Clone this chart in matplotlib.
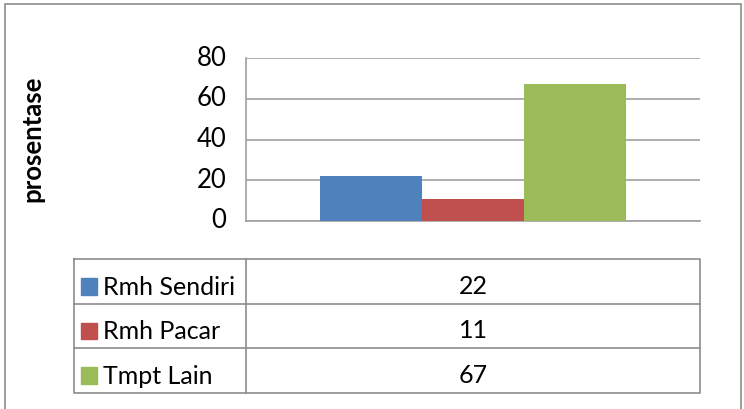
import matplotlib.pyplot as plt
from matplotlib.patches import Rectangle

# data
kategori = ["Rmh Sendiri", "Rmh Pacar", "Tmpt Lain"]
nilai = [22, 11, 67]
warna = ["#4F81BD", "#C0504D", "#9BBB59"]
y_ticks = [0, 20, 40, 60, 80]

W, H = 744, 409
plt.rcParams['font.family'] = ['Lato', 'DejaVu Sans']

fig = plt.figure(figsize=(W / 100, H / 100), dpi=100)

# outer frame
fig.patches.append(Rectangle((5 / W, -0.05), 736 / W, 1.05 - 4 / H,
                             transform=fig.transFigure, fill=False,
                             edgecolor="#8C8C8C", linewidth=1.2))

# bar chart
ax = fig.add_axes([246 / W, 1 - 221 / H, 454 / W, 163 / H])
lebar = 0.224
n = len(nilai)
for i, (v, c) in enumerate(zip(nilai, warna)):
    x = (i - (n - 1) / 2) * lebar
    ax.bar(x, v, width=lebar, color=c, zorder=3)
ax.set_xlim(-0.5, 0.5)
ax.set_ylim(0, 80)
ax.set_yticks(y_ticks)
ax.set_xticks([])
ax.tick_params(axis="y", length=0, pad=14, labelsize=18.5)
for lb in ax.get_yticklabels():
    lb.set_va("center")
ax.grid(axis="y", color="#A0A0A0", linewidth=1.2, zorder=0)
for s in ["top", "right"]:
    ax.spines[s].set_visible(False)
for s in ["left", "bottom"]:
    ax.spines[s].set_color("#A0A0A0")
    ax.spines[s].set_linewidth(1.2)
fig.text(32 / W, 1 - 139 / H, "prosentase", rotation=90, ha="center",
         va="center", fontsize=18.5, fontweight="bold")

# data table
tb = fig.add_axes([74 / W, 1 - 393 / H, 626 / W, 134 / H])
tb.set_xlim(0, 1)
tb.set_ylim(n, 0)
tb.axis("off")
garis = "#8C8C8C"
split = (246 - 74) / 626
tb.plot([0, 1, 1, 0, 0], [0, 0, n, n, 0], color=garis, lw=1.2, clip_on=False)
tb.plot([split, split], [0, n], color=garis, lw=1.2, clip_on=False)
for r in range(1, n):
    tb.plot([0, 1], [r, r], color=garis, lw=1.2, clip_on=False)
for r, (k, v, c) in enumerate(zip(kategori, nilai, warna)):
    tb.add_patch(Rectangle((7 / 626, r + 19 / 45), 16 / 626, 17 / 45,
                           color=c))
    tb.text(29 / 626, r + 36 / 45, k, ha="left", va="baseline", fontsize=18)
    tb.text((split + 1) / 2, r + 35 / 45, str(v), ha="center",
            va="baseline", fontsize=18)

fig.savefig("out.png", dpi=100)
